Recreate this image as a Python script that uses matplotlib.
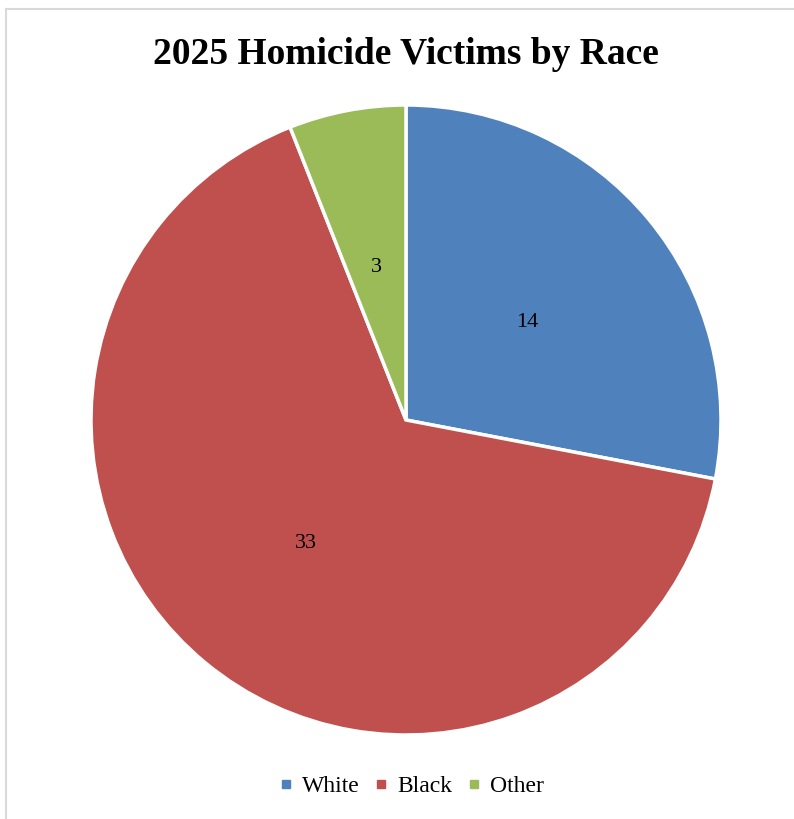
import matplotlib
matplotlib.use("Agg")
import matplotlib.pyplot as plt
from matplotlib.lines import Line2D

categories = ["White", "Black", "Other"]
victims = [14, 33, 3]
colors = ["#4F81BD", "#C0504D", "#9BBB59"]
title = "2025 Homicide Victims by Race"

W, H, DPI = 794, 819, 100
fig = plt.figure(figsize=(W / DPI, H / DPI), dpi=DPI)
plt.rcParams["font.family"] = ["Liberation Serif", "DejaVu Serif"]

# chart area frame (left and top edges visible)
frame_color = "#D9D9D9"
fig.add_artist(Line2D([5.5 / W, 5.5 / W], [0, 1 - 8.5 / H], transform=fig.transFigure,
                      color=frame_color, lw=1.5))
fig.add_artist(Line2D([5.5 / W, 1], [1 - 8.5 / H, 1 - 8.5 / H], transform=fig.transFigure,
                      color=frame_color, lw=1.5))

cx, cy, r = 406, 420, 315
ax = fig.add_axes([(cx - r) / W, (H - cy - r) / H, 2 * r / W, 2 * r / H])
wedges, texts = ax.pie(victims, colors=colors, startangle=90, counterclock=False,
                       labels=[str(v) for v in victims], labeldistance=0.5,
                       wedgeprops=dict(edgecolor="white", linewidth=2.5),
                       textprops=dict(fontsize=16, color="black", ha="center", va="center"))
for t in texts:
    x, y = t.get_position()
    t.set_position((x, y - 0.008))
ax.set_xlim(-1, 1)
ax.set_ylim(-1, 1)
ax.set_aspect("equal")
ax.axis("off")

fig.text(405.5 / W, 1 - 55 / H, title, ha="center", va="center",
         fontsize=27, fontweight="bold")

handles = [Line2D([], [], marker="s", linestyle="none", markersize=6,
                  markerfacecolor=c, markeredgecolor=c) for c in colors]
fig.legend(handles, categories, loc="center", bbox_to_anchor=(412 / W, 1 - 786 / H),
           ncol=3, frameon=False, fontsize=17, handlelength=0.5, handletextpad=0.45,
           columnspacing=0.65)

fig.savefig("out.png", dpi=DPI)
